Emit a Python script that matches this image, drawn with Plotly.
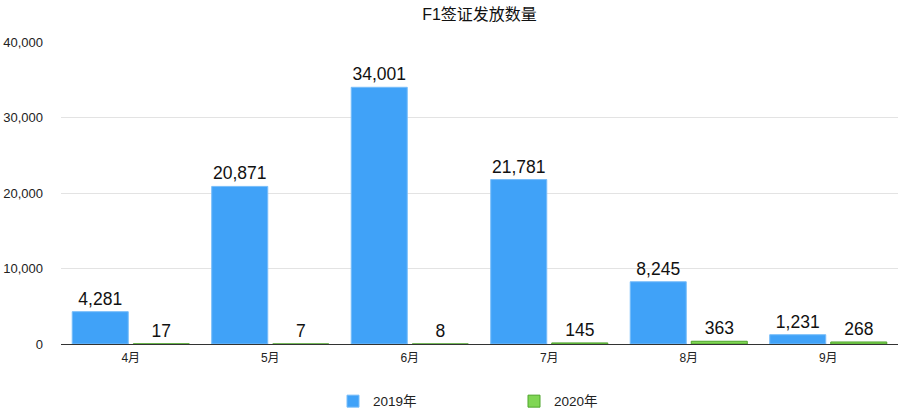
import plotly.graph_objects as go

months = ["4月", "5月", "6月", "7月", "8月", "9月"]
visas_2019 = [4281, 20871, 34001, 21781, 8245, 1231]
visas_2020 = [17, 7, 8, 145, 363, 268]
tick_vals = [0, 10000, 20000, 30000, 40000]

FONT = "Liberation Sans, Arial, Noto Sans CJK SC, sans-serif"

fig = go.Figure()
fig.add_trace(go.Bar(
    x=months, y=visas_2019, name="2019年",
    marker=dict(color="#40a2f8", line=dict(color="#78bdf9", width=1)),
    text=[f"{v:,}" for v in visas_2019], textposition="outside",
    textfont=dict(size=17.5, color="#111111"), cliponaxis=False,
))
fig.add_trace(go.Bar(
    x=months, y=visas_2020, name="2020年",
    marker=dict(color="#80d654", line=dict(color="#4ea52c", width=1)),
    text=[f"{v:,}" for v in visas_2020], textposition="outside",
    textfont=dict(size=17.5, color="#111111"), cliponaxis=False,
))

fig.update_layout(
    width=900, height=411,
    margin=dict(l=61, r=2, t=42, b=67, autoexpand=False),
    paper_bgcolor="white", plot_bgcolor="white",
    font=dict(family=FONT, color="#222222"),
    title=dict(text="F1签证发放数量", x=0.5, xref="paper", xanchor="center",
               y=1 - 14 / 411, yref="container", yanchor="middle",
               font=dict(size=16, color="#111111")),
    barmode="group", bargap=0.125, bargroupgap=0.082,
    showlegend=True,
    legend=dict(orientation="h", x=(333 - 61) / 837, xanchor="left", y=-0.19, yanchor="middle",
                font=dict(size=13.5, color="#222222"), entrywidth=136, itemwidth=30),
    uniformtext=dict(mode=False),
)
fig.update_xaxes(showgrid=False, showline=True, linecolor="#333333", linewidth=1,
                 ticks="", tickfont=dict(size=12, color="#222222"), automargin=False,
                 ticklabelstandoff=3)
fig.update_yaxes(range=[0, 40000], tickvals=tick_vals, tickformat=",",
                 showgrid=True, gridcolor="#e3e3e3", gridwidth=1, zeroline=False,
                 tickfont=dict(size=13, color="#222222"), ticklabelstandoff=17,
                 automargin=False)

post = (
    "document.documentElement.style.margin='0';"
    "document.body.style.margin='0';document.body.style.padding='0';"
    "document.body.style.overflow='hidden';"
    "var gd=document.getElementById('{plot_id}');"
    "Plotly.relayout(gd,{width:900,height:411});"
)
fig.write_html("out.html", post_script=post,
               config={"responsive": False, "displayModeBar": False})
